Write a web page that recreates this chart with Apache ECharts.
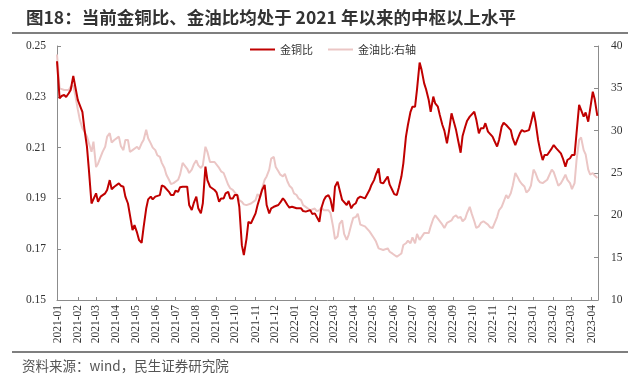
<!DOCTYPE html>
<html><head><meta charset="utf-8">
<script src="https://cdn.jsdelivr.net/npm/echarts@6/dist/echarts.min.js"></script>
<style>html,body{margin:0;padding:0;background:#fff}#c{width:640px;height:382px}</style>
</head><body><div id="c"></div>
<script>
const titleText = '图18：当前金铜比、金油比均处于 2021 年以来的中枢以上水平';
const sourceText = '资料来源：wind，民生证券研究院';
const seriesNames = ['金铜比', '金油比:右轴'];
const tickLabels = ['2021-01','2021-02','2021-03','2021-04','2021-05','2021-06','2021-07','2021-08','2021-09','2021-10','2021-11','2021-12',
  '2022-01','2022-02','2022-03','2022-04','2022-05','2022-06','2022-07','2022-08','2022-09','2022-10','2022-11','2022-12',
  '2023-01','2023-02','2023-03','2023-04'];
const dates = ['2020-12-31',
  '2021-01-04','2021-01-07','2021-01-11','2021-01-14','2021-01-18','2021-01-21','2021-01-25','2021-01-28',
  '2021-02-01','2021-02-04','2021-02-08','2021-02-11','2021-02-15','2021-02-18','2021-02-22','2021-02-25',
  '2021-03-01','2021-03-04','2021-03-08','2021-03-11','2021-03-15','2021-03-18','2021-03-22','2021-03-25','2021-03-29','2021-04-01',
  '2021-04-05','2021-04-08','2021-04-12','2021-04-15','2021-04-19','2021-04-22','2021-04-26','2021-04-29',
  '2021-05-03','2021-05-06','2021-05-10','2021-05-13','2021-05-17','2021-05-20','2021-05-24','2021-05-27','2021-05-31','2021-06-03',
  '2021-06-07','2021-06-10','2021-06-14','2021-06-17','2021-06-21','2021-06-24','2021-06-28','2021-07-01',
  '2021-07-05','2021-07-08','2021-07-12','2021-07-15','2021-07-19','2021-07-22','2021-07-26','2021-07-29',
  '2021-08-02','2021-08-05','2021-08-09','2021-08-12','2021-08-16','2021-08-19','2021-08-23','2021-08-26','2021-08-30','2021-09-02',
  '2021-09-06','2021-09-09','2021-09-13','2021-09-16','2021-09-20','2021-09-23','2021-09-27','2021-09-30',
  '2021-10-04','2021-10-07','2021-10-11','2021-10-14','2021-10-18','2021-10-21','2021-10-25','2021-10-28',
  '2021-11-01','2021-11-04','2021-11-08','2021-11-11','2021-11-15','2021-11-18','2021-11-22','2021-11-25','2021-11-29','2021-12-02',
  '2021-12-06','2021-12-09','2021-12-13','2021-12-16','2021-12-20','2021-12-23','2021-12-27','2021-12-30',
  '2022-01-03','2022-01-06','2022-01-10','2022-01-13','2022-01-17','2022-01-20','2022-01-24','2022-01-27','2022-01-31','2022-02-03',
  '2022-02-07','2022-02-10','2022-02-14','2022-02-17','2022-02-21','2022-02-24','2022-02-28','2022-03-03',
  '2022-03-07','2022-03-10','2022-03-14','2022-03-17','2022-03-21','2022-03-24','2022-03-28','2022-03-31',
  '2022-04-04','2022-04-07','2022-04-11','2022-04-14','2022-04-18','2022-04-21','2022-04-25','2022-04-28',
  '2022-05-02','2022-05-05','2022-05-09','2022-05-12','2022-05-16','2022-05-19','2022-05-23','2022-05-26','2022-05-30','2022-06-02',
  '2022-06-06','2022-06-09','2022-06-13','2022-06-16','2022-06-20','2022-06-23','2022-06-27','2022-06-30',
  '2022-07-04','2022-07-07','2022-07-11','2022-07-14','2022-07-18','2022-07-21','2022-07-25','2022-07-28',
  '2022-08-01','2022-08-04','2022-08-08','2022-08-11','2022-08-15','2022-08-18','2022-08-22','2022-08-25','2022-08-29','2022-09-01',
  '2022-09-05','2022-09-08','2022-09-12','2022-09-15','2022-09-19','2022-09-22','2022-09-26','2022-09-29',
  '2022-10-03','2022-10-06','2022-10-10','2022-10-13','2022-10-17','2022-10-20','2022-10-24','2022-10-27','2022-10-31','2022-11-03',
  '2022-11-07','2022-11-10','2022-11-14','2022-11-17','2022-11-21','2022-11-24','2022-11-28','2022-12-01',
  '2022-12-05','2022-12-08','2022-12-12','2022-12-15','2022-12-19','2022-12-22','2022-12-26','2022-12-29',
  '2023-01-02','2023-01-05','2023-01-09','2023-01-12','2023-01-16','2023-01-19','2023-01-23','2023-01-26','2023-01-30','2023-02-02',
  '2023-02-06','2023-02-09','2023-02-13','2023-02-16','2023-02-20','2023-02-23','2023-02-27','2023-03-02',
  '2023-03-06','2023-03-09','2023-03-13','2023-03-16','2023-03-20','2023-03-23','2023-03-27','2023-03-30',
  '2023-04-03','2023-04-06','2023-04-10'];
const goldCopper = [0.244,
  0.2294,0.2303,0.2307,0.2299,0.2314,0.2327,0.2382,0.2379,
  0.2287,0.229,0.2241,0.2176,0.2104,0.2012,0.188,0.1887,
  0.192,0.1887,0.1907,0.1907,0.192,0.1933,0.1972,0.1936,0.1946,0.1951,
  0.1959,0.195,0.1946,0.1907,0.188,0.1835,0.1775,0.1795,
  0.1765,0.1736,0.1725,0.1786,0.186,0.1896,0.1907,0.1896,0.1907,0.1913,
  0.1913,0.1951,0.1946,0.195,0.1926,0.1913,0.1913,0.193,
  0.1926,0.1944,0.1946,0.1949,0.1946,0.1874,0.1854,0.1881,
  0.1907,0.1861,0.1841,0.1881,0.2025,0.1972,0.1946,0.1944,0.1933,0.1924,
  0.1887,0.19,0.19,0.192,0.1926,0.19,0.19,0.1913,
  0.1913,0.1867,0.1715,0.1677,0.174,0.1808,0.1802,0.1802,
  0.1841,0.1873,0.1907,0.1933,0.1953,0.1874,0.1841,0.1861,0.1867,0.187,
  0.1874,0.1884,0.19,0.1891,0.1874,0.1864,0.1867,0.1867,
  0.1861,0.1857,0.1861,0.185,0.1848,0.1853,0.1854,0.1839,0.1841,0.1844,
  0.1808,0.1861,0.1894,0.1907,0.1913,0.1896,0.1848,0.1946,
  0.1966,0.1962,0.1894,0.1898,0.1874,0.189,0.1861,0.1874,
  0.1881,0.19,0.1907,0.19,0.19,0.1907,0.1933,0.1953,
  0.1972,0.1995,0.2018,0.1962,0.1959,0.1966,0.1986,0.1954,0.1933,0.1917,
  0.1913,0.1942,0.1986,0.2038,0.2143,0.2189,0.2241,0.2261,
  0.2261,0.2329,0.2435,0.2406,0.2353,0.2329,0.2287,0.2241,
  0.2301,0.2274,0.2261,0.2228,0.2189,0.2167,0.2117,0.2163,0.2235,0.2238,
  0.2169,0.213,0.208,0.2146,0.2182,0.2206,0.2222,0.2222,
  0.2241,0.2211,0.2156,0.2176,0.2176,0.2196,0.2163,0.2163,0.2143,0.2126,
  0.2104,0.213,0.2182,0.2198,0.2189,0.2182,0.2169,0.2136,
  0.211,0.213,0.2156,0.2169,0.2163,0.2156,0.2169,0.2198,
  0.2241,0.2202,0.213,0.2091,0.2051,0.2071,0.2071,0.2067,0.2097,0.211,
  0.2097,0.2093,0.2077,0.2058,0.2025,0.2051,0.2058,0.2071,
  0.2071,0.2156,0.2268,0.2274,0.2222,0.2238,0.2202,0.2202,
  0.232,0.229,0.2225];
const goldOil = [39.0,
  35.0,35.0,34.8,35.0,34.8,35.2,35.3,34.2,
  32.5,31.3,30.3,29.9,29.3,29.5,27.5,28.7,
  25.7,26.1,26.9,27.5,28.1,29.3,29.7,28.6,28.9,29.1,
  29.3,28.2,27.7,28.9,28.9,27.5,27.7,27.5,
  28.1,27.8,28.5,28.9,30.1,29.1,28.5,28.0,27.7,27.1,
  26.9,26.2,25.6,24.8,24.2,23.7,23.8,23.8,
  24.2,24.8,26.2,26.3,25.5,25.0,25.4,26.0,
  26.5,25.9,25.6,25.9,28.1,27.5,26.3,26.2,26.3,26.1,
  25.6,25.2,25.0,24.9,23.6,23.2,23.0,22.7,
  22.4,21.8,21.6,21.3,21.2,21.4,21.4,21.3,
  21.8,22.5,22.2,23.2,24.2,24.6,25.4,26.7,26.9,25.7,
  25.2,24.8,24.6,24.9,24.0,23.5,23.2,22.6,
  22.4,22.0,21.8,21.2,21.0,20.8,20.6,20.7,20.8,20.5,
  20.6,20.9,20.6,20.7,20.6,20.3,18.7,17.2,
  17.5,19.0,19.4,17.8,17.1,17.7,18.9,19.7,
  19.8,20.2,18.9,18.8,18.7,18.5,18.1,17.9,
  17.3,16.9,16.1,15.9,15.9,16.0,16.1,15.7,15.5,15.3,
  15.1,15.2,15.5,16.5,16.7,17.0,16.7,17.4,
  16.7,17.8,17.1,17.3,17.9,17.9,17.9,18.7,
  19.6,20.0,19.6,19.5,18.9,18.5,19.1,19.3,19.4,19.8,
  20.0,19.7,19.8,19.3,19.6,20.3,21.0,20.2,
  19.3,18.5,18.7,19.1,19.3,19.1,18.9,18.6,18.5,18.3,
  19.8,20.6,21.0,21.6,22.4,22.0,22.6,23.5,
  25.0,24.6,24.0,23.7,23.4,22.7,23.0,23.5,
  25.4,25.0,24.2,23.9,23.8,23.7,24.2,24.4,25.4,25.1,
  24.2,23.5,23.8,24.2,24.8,24.2,23.8,23.1,
  23.8,26.5,28.9,29.2,27.7,27.2,25.4,24.8,
  25.0,24.7,24.4];

function toTs(s) {
  const p = s.split('-').map(Number);
  return new Date(p[0], p[1] - 1, p[2] || 1).getTime();
}
const tickValues = tickLabels.map(toTs);
function fmtMonth(v) {
  const i = tickValues.indexOf(v);
  if (i >= 0) return tickLabels[i];
  const d = new Date(v);
  const m = d.getMonth() + 1;
  return d.getFullYear() + '-' + (m < 10 ? '0' + m : m);
}

const chart = echarts.init(document.getElementById('c'), null, {renderer: 'canvas'});
const axisGray = '#8c8c8c';
const serif = 'Liberation Serif';
chart.setOption({
  animation: false,
  backgroundColor: '#fff',
  title: {
    text: titleText, left: 21, top: 4,
    textStyle: {fontFamily: 'Noto Sans CJK SC', fontWeight: 'bold', fontSize: 17.5, color: '#333'}
  },
  legend: {
    left: 245, top: 39, itemGap: 15, itemWidth: 25, itemHeight: 2, icon: 'rect',
    textStyle: {fontFamily: 'Noto Sans CJK SC', fontSize: 11, color: '#333'},
    data: [seriesNames[0], seriesNames[1]]
  },
  graphic: [
    {type: 'line', shape: {x1: 12, y1: 33, x2: 628, y2: 33}, style: {stroke: '#555', lineWidth: 1.5}},
    {type: 'line', shape: {x1: 12, y1: 352, x2: 628, y2: 352}, style: {stroke: '#555', lineWidth: 1.5}},
    {type: 'text', left: 22, top: 359, style: {text: sourceText, fontFamily: 'Noto Sans CJK SC', fontSize: 13.5, fill: '#555'}}
  ],
  grid: {left: 57, right: 42, top: 46, bottom: 82, containLabel: false},
  xAxis: {
    type: 'value',
    min: toTs('2020-12-31'), max: toTs('2023-04-11'),
    axisLine: {show: true, lineStyle: {color: axisGray, width: 1}},
    axisTick: {show: true, inside: true, length: 3, customValues: tickValues, lineStyle: {color: axisGray}},
    axisLabel: {
      customValues: tickValues, rotate: 90, margin: 5, formatter: fmtMonth,
      fontFamily: serif, fontSize: 11.5, color: '#333'
    },
    splitLine: {show: false}
  },
  yAxis: [
    {
      type: 'value', min: 0.15, max: 0.25, interval: 0.02,
      axisLine: {show: true, lineStyle: {color: axisGray}},
      axisTick: {show: true, inside: true, length: 4, lineStyle: {color: axisGray}},
      axisLabel: {formatter: v => v.toFixed(2), fontFamily: serif, fontSize: 11.5, color: '#333', margin: 11},
      splitLine: {show: false}
    },
    {
      type: 'value', min: 10, max: 40, interval: 5,
      axisLine: {show: true, lineStyle: {color: axisGray}},
      axisTick: {show: true, inside: true, length: 4, lineStyle: {color: axisGray}},
      axisLabel: {fontFamily: serif, fontSize: 11.5, color: '#333', margin: 13},
      splitLine: {show: false}
    }
  ],
  series: [
    {
      name: seriesNames[1], type: 'line', yAxisIndex: 1, showSymbol: false, z: 2,
      lineStyle: {color: '#EBC6C5', width: 2}, itemStyle: {color: '#EBC6C5'},
      data: dates.map((d, i) => [toTs(d), goldOil[i]])
    },
    {
      name: seriesNames[0], type: 'line', yAxisIndex: 0, showSymbol: false, z: 3,
      lineStyle: {color: '#C00000', width: 2}, itemStyle: {color: '#C00000'},
      data: dates.map((d, i) => [toTs(d), goldCopper[i]])
    }
  ]
});
</script>
</body></html>
